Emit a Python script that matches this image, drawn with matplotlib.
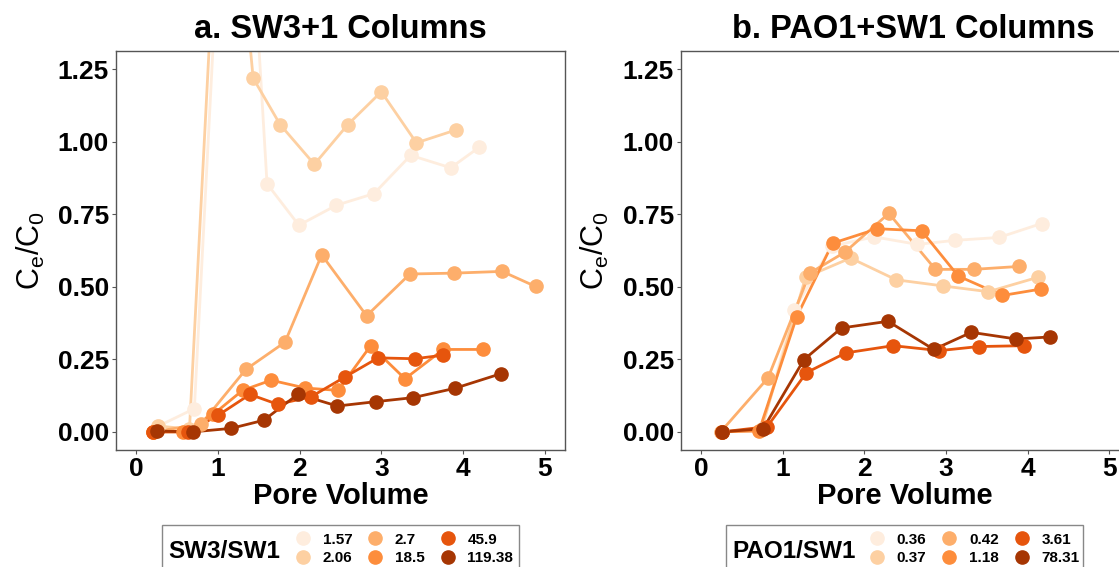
import matplotlib
matplotlib.use("Agg")
import matplotlib.pyplot as plt
from matplotlib.lines import Line2D
from matplotlib.patches import Rectangle

plt.rcParams['font.family'] = ['Liberation Sans', 'DejaVu Sans']

colors = ['#FEEDDE', '#FDD0A2', '#FDAE6B', '#FD8D3C', '#E6550D', '#A63603']

# Panel a: SW3+1 columns
a_labels = ['1.57', '2.06', '2.7', '18.5', '45.9', '119.38']
a_x = [
    [0.27, 0.71, 1.20, 1.60, 1.99, 2.45, 2.91, 3.36, 3.85, 4.20],
    [0.27, 0.65, 1.07, 1.43, 1.76, 2.18, 2.59, 3.00, 3.43, 3.92],
    [0.20, 0.79, 1.34, 1.82, 2.27, 2.82, 3.35, 3.89, 4.48, 4.89],
    [0.20, 0.57, 0.94, 1.30, 1.65, 2.07, 2.47, 2.87, 3.29, 3.76, 4.24],
    [0.20, 0.63, 1.00, 1.39, 1.73, 2.14, 2.56, 2.96, 3.41, 3.75],
    [0.25, 0.69, 1.16, 1.56, 1.98, 2.46, 2.93, 3.39, 3.90, 4.46],
]
a_y = [
    [0.02, 0.08, 2.75, 0.855, 0.712, 0.781, 0.821, 0.953, 0.91, 0.981],
    [0.02, 0.01, 2.30, 1.219, 1.059, 0.922, 1.059, 1.172, 0.996, 1.041],
    [0.00, 0.026, 0.215, 0.309, 0.61, 0.40, 0.544, 0.547, 0.553, 0.501],
    [0.00, 0.00, 0.06, 0.143, 0.178, 0.151, 0.143, 0.297, 0.183, 0.284, 0.284],
    [0.00, 0.00, 0.057, 0.129, 0.095, 0.121, 0.19, 0.255, 0.252, 0.264],
    [0.003, 0.00, 0.012, 0.04, 0.13, 0.089, 0.104, 0.118, 0.15, 0.20],
]

# Panel b: PAO1+SW1 columns
b_labels = ['0.36', '0.37', '0.42', '1.18', '3.61', '78.31']
b_x = [
    [0.25, 0.74, 1.14, 1.60, 2.12, 2.65, 3.11, 3.65, 4.17],
    [0.25, 0.74, 1.28, 1.83, 2.39, 2.96, 3.52, 4.13],
    [0.24, 0.82, 1.33, 1.76, 2.30, 2.87, 3.34, 3.89],
    [0.25, 0.71, 1.17, 1.61, 2.16, 2.70, 3.15, 3.69, 4.16],
    [0.26, 0.81, 1.29, 1.77, 2.35, 2.92, 3.40, 3.96],
    [0.26, 0.76, 1.26, 1.72, 2.29, 2.85, 3.31, 3.86, 4.27],
]
b_y = [
    [0.00, 0.01, 0.421, 0.640, 0.672, 0.646, 0.660, 0.670, 0.718],
    [0.00, 0.01, 0.533, 0.599, 0.524, 0.503, 0.483, 0.533],
    [0.00, 0.186, 0.547, 0.619, 0.753, 0.560, 0.560, 0.570],
    [0.00, 0.003, 0.396, 0.650, 0.700, 0.693, 0.537, 0.470, 0.492],
    [0.00, 0.018, 0.204, 0.272, 0.297, 0.280, 0.294, 0.297],
    [0.00, 0.011, 0.249, 0.358, 0.381, 0.284, 0.343, 0.320, 0.327],
]

xticks = [0, 1, 2, 3, 4, 5]
yticks = [0.0, 0.25, 0.5, 0.75, 1.0, 1.25]
ytick_labels = ['0.00', '0.25', '0.50', '0.75', '1.00', '1.25']

W, H = 1119, 567
fig = plt.figure(figsize=(W / 100, H / 100), dpi=100)


def fx(px):
    return px / W


def fy(py):
    return 1 - py / H


def make_panel(left_px, xs, ys, title, title_cx, legend_title, labels,
               leg_left, leg_right, leg_offset):
    ax = fig.add_axes([fx(left_px), fy(450), 449 / W, 399 / H])
    for x, y, c in zip(xs, ys, colors):
        ax.plot(x, y, color=c, lw=2.0, zorder=2, solid_capstyle='round')
    for x, y, c in zip(xs, ys, colors):
        ax.plot(x, y, 'o', color=c, ms=9.5, mec=c, zorder=3, ls='none')
    ax.set_xlim(-0.25, 5.25)
    ax.set_ylim(-0.0625, 1.3125)
    ax.set_xticks(xticks)
    ax.set_xticklabels([str(t) for t in xticks], fontsize=19, fontweight='bold')
    ax.set_yticks(yticks)
    ax.set_yticklabels(ytick_labels, fontsize=19, fontweight='bold')
    ax.tick_params(length=3, width=0.8, color='#555555', pad=2)
    for s in ax.spines.values():
        s.set_color('#555555')
        s.set_linewidth(1.0)
    ax.set_xlabel('Pore Volume', fontsize=21, fontweight='bold', labelpad=1)
    ax.set_ylabel(r'$\mathregular{C_e/C_0}$', fontsize=22, labelpad=8)
    fig.text(fx(title_cx), fy(30), title, fontsize=23.5, fontweight='bold',
             ha='center', va='center')
    # legend box
    rect = Rectangle((fx(leg_left), fy(575)), (leg_right - leg_left) / W, (575 - 525) / H,
                     transform=fig.transFigure, fill=False, ec='#888888', lw=1.0)
    fig.add_artist(rect)
    fig.text(fx(leg_left + 6), fy(551), legend_title, fontsize=17.5, fontweight='bold',
             ha='left', va='center')
    handles = [Line2D([], [], marker='o', ls='none', color=c, ms=9.5) for c in colors]
    fig.legend(handles, labels, ncol=3, frameon=False,
               loc='center left', bbox_to_anchor=(fx(leg_left + leg_offset), fy(549)),
               prop={'size': 11, 'weight': 'bold'},
               handletextpad=0.8, columnspacing=1.0, labelspacing=0.3,
               handlelength=1.0, borderpad=0.2, borderaxespad=0.0)
    return ax


make_panel(116, a_x, a_y, 'a. SW3+1 Columns', 340, 'SW3/SW1', a_labels, 162, 519, 130)
make_panel(680.7, b_x, b_y, 'b. PAO1+SW1 Columns', 913, 'PAO1/SW1', b_labels, 726, 1083, 140)

fig.savefig('out.png', dpi=100)
